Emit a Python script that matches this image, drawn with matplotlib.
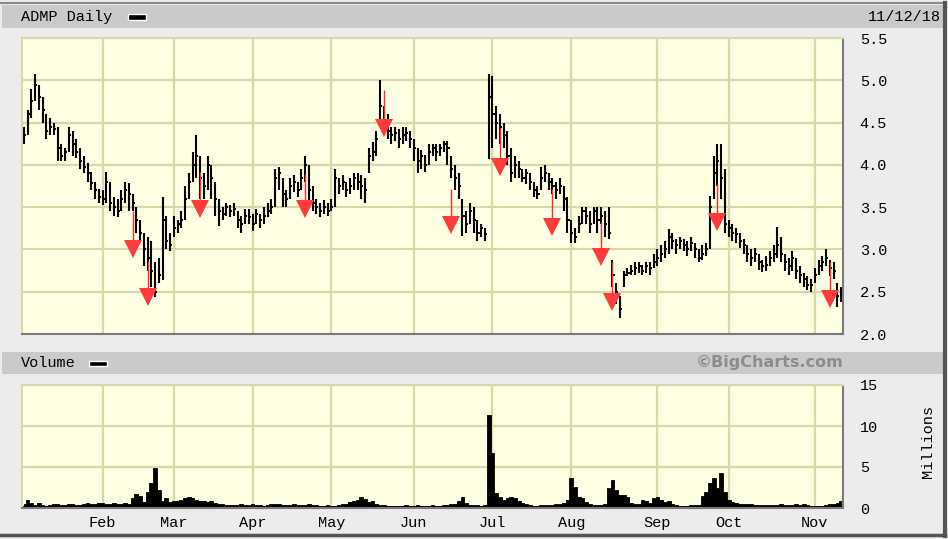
import numpy as np
import pandas as pd
import matplotlib
matplotlib.use('Agg')
import matplotlib.pyplot as plt
from matplotlib.patches import Rectangle
from matplotlib.lines import Line2D

# Daily price bars, ADMP, Jan 2 2018 - Nov 12 2018
closes = [4.35, 4.6, 4.75, 4.95, 4.8, 4.65, 4.4, 4.45, 4.42, 4.2,
          4.1, 4.15, 4.35, 4.25, 4.15, 4.05, 3.98, 3.9, 3.78, 3.7,
          3.62, 3.6, 3.8, 3.55, 3.5, 3.45, 3.6, 3.7, 3.65, 3.55,
          3.35, 3.2, 3.0, 2.9, 2.75, 2.5, 2.7, 3.35, 3.1, 3.05,
          3.25, 3.3, 3.35, 3.6, 3.8, 4.0, 4.1, 3.85, 3.75, 4.0,
          3.85, 3.6, 3.45, 3.42, 3.5, 3.45, 3.48, 3.35, 3.3, 3.4,
          3.38, 3.3, 3.42, 3.35, 3.4, 3.45, 3.5, 3.85, 3.9, 3.65,
          3.6, 3.75, 3.8, 3.7, 3.85, 4.0, 3.7, 3.55, 3.5, 3.45,
          3.5, 3.45, 3.5, 3.85, 3.75, 3.8, 3.7, 3.75, 3.85, 3.8,
          3.75, 3.7, 4.1, 4.15, 4.3, 4.7, 4.5, 4.4, 4.35, 4.38,
          4.3, 4.35, 4.38, 4.3, 4.2, 4.05, 4.1, 4.0, 4.15, 4.2,
          4.15, 4.2, 4.25, 4.2, 3.95, 3.85, 3.75, 3.4, 3.3, 3.45,
          3.35, 3.2, 3.25, 3.18, 4.8, 4.6, 4.5, 4.45, 4.35, 4.1,
          3.9, 4.0, 3.95, 3.85, 3.9, 3.8, 3.7, 3.65, 3.85, 3.9,
          3.8, 3.75, 3.7, 3.75, 3.6, 3.35, 3.2, 3.15, 3.3, 3.45,
          3.4, 3.3, 3.45, 3.35, 3.4, 3.3, 3.2, 2.7, 2.5, 2.3,
          2.7, 2.72, 2.75, 2.78, 2.8, 2.75, 2.8, 2.78, 2.85, 2.9,
          2.95, 3.0, 3.15, 3.1, 3.05, 3.1, 3.05, 3.0, 3.08, 3.0,
          2.9, 2.95, 3.0, 3.5, 3.9, 4.05, 3.85, 3.3, 3.25, 3.2,
          3.18, 3.1, 3.05, 2.95, 2.9, 2.95, 2.85, 2.8, 2.82, 2.9,
          2.95, 3.05, 2.95, 2.85, 2.8, 2.9, 2.75, 2.7, 2.65, 2.58,
          2.58, 2.7, 2.8, 2.85, 2.9, 2.78, 2.75, 2.45, 2.5]

highs = [4.45, 4.65, 4.9, 5.08, 4.95, 4.8, 4.6, 4.55, 4.5, 4.45,
         4.25, 4.2, 4.45, 4.4, 4.3, 4.2, 4.1, 4.02, 3.92, 3.8,
         3.72, 3.7, 3.92, 3.8, 3.62, 3.6, 3.7, 3.8, 3.78, 3.65,
         3.5, 3.35, 3.2, 3.15, 3.1, 2.85, 2.9, 3.62, 3.4, 3.2,
         3.4, 3.35, 3.45, 3.75, 3.9, 4.15, 4.35, 4.1, 3.9, 4.1,
         4.0, 3.8, 3.6, 3.5, 3.55, 3.52, 3.55, 3.45, 3.4, 3.48,
         3.48, 3.42, 3.48, 3.42, 3.5, 3.55, 3.6, 3.95, 3.98, 3.85,
         3.7, 3.85, 3.88, 3.8, 3.95, 4.1, 4.0, 3.75, 3.6, 3.55,
         3.58, 3.55, 3.6, 3.95, 3.85, 3.88, 3.8, 3.85, 3.9, 3.9,
         3.88, 3.85, 4.2, 4.27, 4.4, 5.0, 4.7, 4.6, 4.45, 4.45,
         4.42, 4.45, 4.45, 4.4, 4.3, 4.2, 4.18, 4.12, 4.25, 4.25,
         4.25, 4.25, 4.28, 4.28, 4.1, 4.0, 3.9, 3.6, 3.45, 3.55,
         3.5, 3.35, 3.3, 3.25, 5.08, 5.05, 4.7, 4.6, 4.5, 4.4,
         4.2, 4.1, 4.05, 3.95, 3.95, 3.9, 3.8, 3.75, 3.98, 4.0,
         3.9, 3.85, 3.8, 3.85, 3.75, 3.62, 3.35, 3.25, 3.4, 3.5,
         3.5, 3.45, 3.5, 3.5, 3.5, 3.45, 3.5, 2.88, 2.6, 2.45,
         2.75, 2.78, 2.82, 2.85, 2.85, 2.82, 2.85, 2.85, 2.95, 3.0,
         3.05, 3.1, 3.24, 3.2, 3.12, 3.15, 3.12, 3.1, 3.15, 3.08,
         3.0, 3.05, 3.08, 3.63, 4.1, 4.25, 4.25, 3.95, 3.35, 3.3,
         3.25, 3.2, 3.12, 3.05, 3.0, 3.02, 2.95, 2.88, 2.92, 2.98,
         3.05, 3.26, 3.15, 2.95, 2.9, 2.98, 2.9, 2.8, 2.72, 2.68,
         2.65, 2.78, 2.88, 2.92, 3.0, 2.88, 2.85, 2.6, 2.55]

lows = [4.25, 4.35, 4.55, 4.75, 4.65, 4.5, 4.3, 4.35, 4.35, 4.05,
        4.05, 4.05, 4.15, 4.1, 4.08, 3.95, 3.9, 3.8, 3.7, 3.6,
        3.55, 3.52, 3.55, 3.45, 3.4, 3.38, 3.45, 3.55, 3.45, 3.45,
        3.2, 3.1, 2.8, 2.75, 2.55, 2.44, 2.6, 2.64, 3.0, 2.98,
        3.15, 3.2, 3.25, 3.35, 3.6, 3.8, 3.85, 3.6, 3.6, 3.7,
        3.6, 3.4, 3.28, 3.35, 3.4, 3.38, 3.4, 3.25, 3.2, 3.3,
        3.3, 3.22, 3.3, 3.25, 3.3, 3.38, 3.42, 3.5, 3.7, 3.5,
        3.5, 3.6, 3.68, 3.62, 3.7, 3.8, 3.55, 3.45, 3.42, 3.38,
        3.42, 3.4, 3.45, 3.5, 3.65, 3.7, 3.62, 3.65, 3.7, 3.7,
        3.6, 3.55, 3.9, 4.05, 4.1, 4.45, 4.35, 4.3, 4.25, 4.28,
        4.2, 4.25, 4.28, 4.2, 4.05, 3.9, 3.95, 3.92, 4.0, 4.1,
        4.05, 4.1, 4.15, 4.0, 3.85, 3.7, 3.6, 3.16, 3.2, 3.3,
        3.2, 3.1, 3.15, 3.1, 4.07, 4.2, 4.3, 4.25, 4.2, 4.0,
        3.8, 3.85, 3.85, 3.8, 3.77, 3.7, 3.62, 3.6, 3.7, 3.8,
        3.7, 3.65, 3.6, 3.65, 3.45, 3.2, 3.08, 3.08, 3.2, 3.3,
        3.3, 3.2, 3.3, 3.2, 3.3, 3.15, 3.12, 2.55, 2.35, 2.19,
        2.55, 2.68, 2.7, 2.7, 2.72, 2.7, 2.72, 2.7, 2.78, 2.8,
        2.85, 2.9, 2.95, 3.0, 2.95, 3.0, 2.98, 2.92, 2.98, 2.9,
        2.85, 2.88, 2.92, 3.0, 3.6, 3.75, 3.6, 3.2, 3.15, 3.1,
        3.08, 3.02, 2.95, 2.85, 2.8, 2.85, 2.76, 2.73, 2.75, 2.8,
        2.85, 2.9, 2.85, 2.75, 2.7, 2.75, 2.65, 2.6, 2.55, 2.52,
        2.5, 2.6, 2.7, 2.75, 2.8, 2.68, 2.65, 2.32, 2.38]

# Volume in millions
volume = [0.5, 1.0, 0.6, 0.4, 0.6, 0.4, 0.3, 0.4, 0.5, 0.5,
          0.4, 0.4, 0.5, 0.5, 0.4, 0.4, 0.5, 0.6, 0.5, 0.5,
          0.6, 0.6, 0.5, 0.5, 0.6, 0.5, 0.5, 0.6, 0.5, 1.2,
          1.7, 1.5, 0.7, 2.0, 3.0, 4.9, 2.2, 0.9, 1.2, 0.7,
          0.8, 0.9, 1.0, 1.2, 1.3, 1.2, 1.0, 0.8, 0.8, 0.7,
          0.8, 0.6, 0.5, 0.5, 0.4, 0.4, 0.4, 0.4, 0.5, 0.4,
          0.4, 0.5, 0.4, 0.4, 0.3, 0.4, 0.5, 0.5, 0.5, 0.4,
          0.4, 0.4, 0.5, 0.4, 0.4, 0.4, 0.5, 0.4, 0.4, 0.3,
          0.3, 0.4, 0.3, 0.3, 0.4, 0.5, 0.5, 0.7, 0.9, 1.0,
          1.3, 1.1, 0.7, 0.8, 0.5, 0.4, 0.4, 0.3, 0.3, 0.3,
          0.3, 0.3, 0.4, 0.3, 0.3, 0.4, 0.3, 0.3, 0.3, 0.4,
          0.3, 0.3, 0.4, 0.4, 0.5, 0.5, 0.9, 1.4, 0.6, 0.4,
          0.4, 0.4, 0.3, 0.4, 11.3, 6.7, 1.8, 1.4, 1.0, 1.2,
          1.4, 1.2, 0.9, 0.6, 0.5, 0.4, 0.3, 0.3, 0.4, 0.4,
          0.4, 0.4, 0.5, 0.5, 0.6, 1.0, 3.6, 2.6, 1.3, 1.2,
          0.7, 0.5, 0.4, 0.4, 0.4, 0.5, 2.5, 3.4, 2.2, 1.6,
          1.6, 1.3, 0.6, 0.5, 0.5, 1.0, 0.8, 0.6, 1.2, 1.4,
          1.0, 0.7, 0.8, 0.5, 0.4, 0.3, 0.3, 0.3, 0.4, 0.4,
          0.4, 1.5, 2.0, 3.0, 3.6, 2.4, 4.3, 2.0, 1.0, 0.7,
          0.6, 0.5, 0.5, 0.5, 0.5, 0.4, 0.4, 0.4, 0.4, 0.4,
          0.4, 0.4, 0.5, 0.4, 0.4, 0.4, 0.5, 0.4, 0.5, 0.4,
          0.3, 0.3, 0.3, 0.3, 0.4, 0.5, 0.5, 0.6, 0.9]

# Red event arrows: bar index, top of stem, centre of head
arrow_idx = [29, 33, 47, 75, 96, 114, 127, 141, 154, 157, 185, 215]
arrow_top = [3.45, 2.86, 3.92, 3.89, 4.88, 3.71, 4.43, 3.71, 3.33, 2.85, 3.77, 2.85]
arrow_head = [3.01, 2.44, 3.48, 3.48, 4.44, 3.29, 3.98, 3.27, 2.91, 2.38, 3.33, 2.41]

holidays = ['2018-01-01', '2018-01-15', '2018-02-19', '2018-03-30',
            '2018-05-28', '2018-07-04', '2018-09-03']
dates = pd.bdate_range('2018-01-02', '2018-11-12', freq='C', holidays=holidays)
n = len(closes)
dates = dates[:n]
x = np.arange(n)

month_pos = [i for i in range(1, n) if dates[i].month != dates[i - 1].month]
month_lab = [dates[i].strftime('%b') for i in month_pos]

W, H = 948, 539
def fx(px):
    return px / W
def fy(py):
    return 1 - py / H

FONT = 'Liberation Mono'
FS = 11
BG = '#ececec'
PANEL = '#ffffe4'
GRID = '#d8d8a8'

fig = plt.figure(figsize=(9.48, 5.39), dpi=100)
fig.patch.set_facecolor(BG)

# header strips
for top, bot in [(5, 28), (352, 374)]:
    fig.add_artist(Rectangle((fx(2), fy(bot)), fx(941), (bot - top) / H,
                             transform=fig.transFigure, facecolor='#cacaca',
                             edgecolor='none'))
# outer frame
fig.add_artist(Line2D([fx(0), fx(945)], [fy(3), fy(3)], transform=fig.transFigure,
                      color='#8a8a8a', lw=1.5))
fig.add_artist(Line2D([fx(945), fx(945)], [fy(3), fy(536)], transform=fig.transFigure,
                      color='#555555', lw=3))
fig.add_artist(Line2D([fx(0), fx(945)], [fy(535), fy(535)], transform=fig.transFigure,
                      color='#555555', lw=2.5))

fig.text(fx(21), fy(17), 'ADMP Daily', family=FONT, fontsize=FS, va='center', ha='left')
fig.add_artist(Rectangle((fx(128), fy(19.5)), 18 / W, 5 / H, transform=fig.transFigure,
                         facecolor='black', edgecolor='white', lw=1))
fig.text(fx(941), fy(17), '11/12/18', family=FONT, fontsize=FS, va='center', ha='right')

fig.text(fx(21), fy(363), 'Volume', family=FONT, fontsize=FS, va='center', ha='left')
fig.add_artist(Rectangle((fx(89), fy(365.5)), 18 / W, 5 / H, transform=fig.transFigure,
                         facecolor='black', edgecolor='white', lw=1))
fig.text(fx(843), fy(363), '\u00a9BigCharts.com', family='DejaVu Sans', fontsize=11.5,
         fontweight='bold', color='#8c8c8c', va='center', ha='right')
fig.text(fx(928), fy(442), 'Millions', family=FONT, fontsize=FS, rotation=90,
         va='center', ha='center')

ax = fig.add_axes([fx(22), fy(334), 821 / W, 296 / H])
axv = fig.add_axes([fx(22), fy(508), 821 / W, 123 / H])

for a in (ax, axv):
    a.set_facecolor(PANEL)
    a.set_xlim(-0.5, n - 0.5)
    a.set_xticks(month_pos)
    a.grid(True, color=GRID, lw=1.6)
    a.set_axisbelow(True)
    a.yaxis.tick_right()
    a.tick_params(length=0, labelsize=FS, pad=12)
    a.spines['top'].set_color('#d8d8b0')
    a.spines['left'].set_color('#d8d8b0')
    a.spines['bottom'].set_color('#7a7a7a')
    a.spines['right'].set_color('#7a7a7a')
    for s in a.spines.values():
        s.set_linewidth(1.5)

# price bars
ax.vlines(x, lows, highs, color='black', lw=1.5)
ax.hlines(closes, x, x + 0.55, color='black', lw=1.4)
ax.vlines(arrow_idx, arrow_head, arrow_top, color='#ff2b2b', lw=1.0)
ax.plot(arrow_idx, arrow_head, 'v', color='#ff3b3b', markersize=13, markeredgewidth=0)
ax.set_ylim(2.0, 5.5)
yt = np.arange(2.0, 5.51, 0.5)
ax.set_yticks(yt)
ax.set_yticklabels(['%.1f' % v for v in yt], family=FONT, fontsize=FS)
ax.set_xticklabels([])

# volume
axv.fill_between(x, 0, volume, step='mid', facecolor='black', edgecolor='black', lw=0.6)
axv.axhline(0.1, color='black', lw=2)
axv.set_ylim(0, 15)
axv.set_yticks([0, 5, 10, 15])
axv.set_yticklabels(['0', '5', '10', '15'], family=FONT, fontsize=FS)
axv.set_xticklabels(month_lab, family=FONT, fontsize=FS)
axv.tick_params(axis='x', pad=6)

plt.savefig('out.png', dpi=100, facecolor=BG)
